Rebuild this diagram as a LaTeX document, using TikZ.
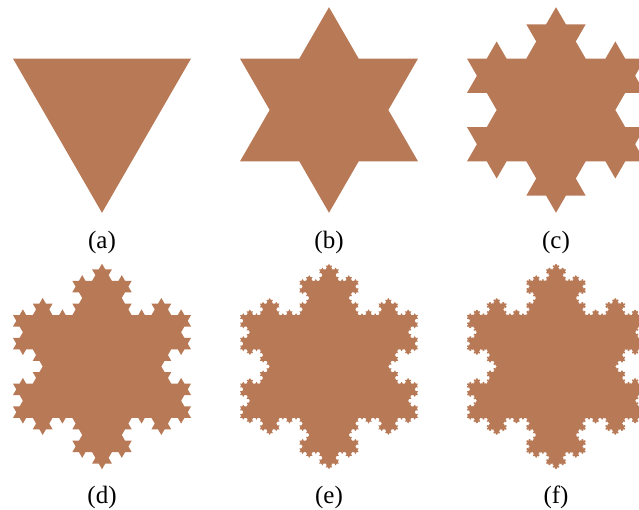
\documentclass[tikz,border=0pt]{standalone}
\usepackage{fontspec}
\setmainfont{Liberation Serif}
\usetikzlibrary{lindenmayersystems}
\pgfdeclarelindenmayersystem{Koch}{\rule{F -> F-F++F-F}}
\definecolor{snowc}{RGB}{184,121,86}
\begin{document}
\begin{tikzpicture}[x=1pt,y=1pt,
  snow/.style={fill=snowc},
  lab/.style={font=\fontsize{25}{29}\selectfont, inner sep=0pt}]
\useasboundingbox (0,0) rectangle (639,-510);
\clip (0,0) rectangle (639,-510);
% (a) triangle, centre (102,110)
\fill[snow] (13,-58.6) -- (191,-58.6) -- (102,-212.8) -- cycle;
% (b)
\begin{scope}[shift={(418,-58.6)}]
\fill[snow, l-system={Koch, axiom=+++F++F++F, order=1, step=59.3333pt, angle=60}] lindenmayer system -- cycle;
\end{scope}
% (c)
\begin{scope}[shift={(645,-58.6)}]
\fill[snow, l-system={Koch, axiom=+++F++F++F, order=2, step=19.7778pt, angle=60}] lindenmayer system -- cycle;
\end{scope}
% (d)
\begin{scope}[shift={(191,-315.1)}]
\fill[snow, l-system={Koch, axiom=+++F++F++F, order=3, step=6.59259pt, angle=60}] lindenmayer system -- cycle;
\end{scope}
% (e)
\begin{scope}[shift={(418,-315.1)}]
\fill[snow, l-system={Koch, axiom=+++F++F++F, order=4, step=2.19753pt, angle=60}] lindenmayer system -- cycle;
\end{scope}
% (f)
\begin{scope}[shift={(645,-315.1)}]
\fill[snow, l-system={Koch, axiom=+++F++F++F, order=5, step=0.732510pt, angle=60}] lindenmayer system -- cycle;
\end{scope}
\node[lab] (la) at (102,-242) {(a)};
\node[lab] (lb) at (329,-242) {(b)};
\node[lab] (lc) at (556,-242) {(c)};
\node[lab] (ld) at (102,-497) {(d)};
\node[lab] (le) at (329,-497) {(e)};
\node[lab] (lf) at (556,-497) {(f)};
\end{tikzpicture}
\end{document}
